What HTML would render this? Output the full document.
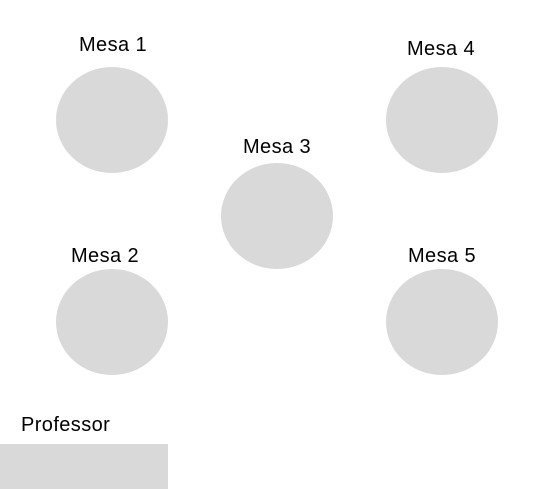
<!DOCTYPE html>
<html><head><meta charset="utf-8"><style>
html,body{margin:0;padding:0;background:#fff;}
body{width:554px;height:489px;position:relative;overflow:hidden;font-family:"Liberation Sans",sans-serif;}
.t{position:absolute;width:112px;height:106px;border-radius:50%;background:#d9d9d9;}
.l{position:absolute;font-size:20px;letter-spacing:0.4px;color:#000;width:140px;text-align:center;line-height:20px;}
</style></head><body>
<div class="l" style="left:43px;top:35px">Mesa 1</div>
<div class="t" style="left:56px;top:67px"></div>
<div class="l" style="left:371px;top:39px">Mesa 4</div>
<div class="t" style="left:386px;top:67px"></div>
<div class="l" style="left:207px;top:137px">Mesa 3</div>
<div class="t" style="left:221px;top:163px"></div>
<div class="l" style="left:35px;top:246px">Mesa 2</div>
<div class="t" style="left:56px;top:269px"></div>
<div class="l" style="left:372px;top:246px">Mesa 5</div>
<div class="t" style="left:386px;top:269px"></div>
<div class="l" style="left:21px;top:415px;text-align:left">Professor</div>
<div style="position:absolute;left:0;top:444px;width:168px;height:45px;background:#d9d9d9"></div>
</body></html>
